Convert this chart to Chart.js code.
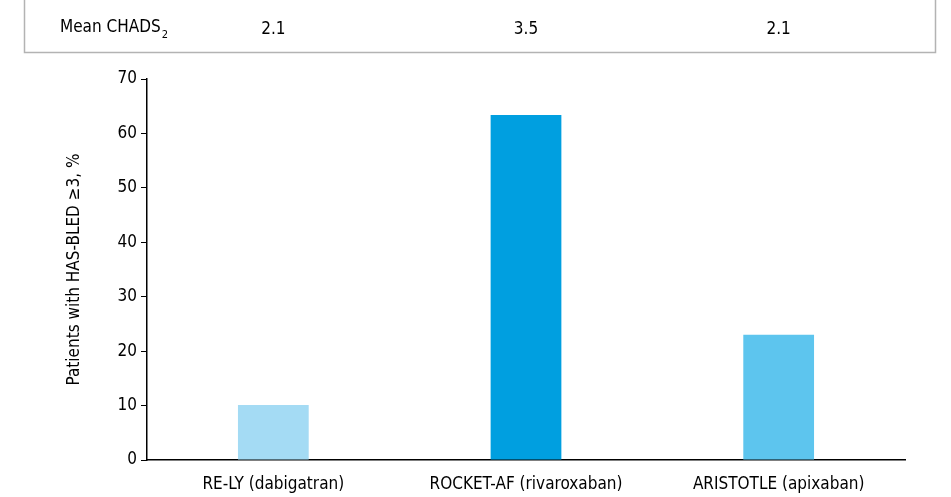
<!DOCTYPE html>
<html>
<head>
<meta charset="utf-8">
<script src="https://cdn.jsdelivr.net/npm/chart.js@4.4.1/dist/chart.umd.min.js"></script>
<style>
  html, body { margin: 0; padding: 0; background: #fff; }
  #wrap { position: relative; width: 951px; height: 497px; }
</style>
</head>
<body>
<div id="wrap"><canvas id="bars"></canvas></div>
<script>
const trials = ['RE-LY (dabigatran)', 'ROCKET-AF (rivaroxaban)', 'ARISTOTLE (apixaban)']
const hasBledPct = [10.1, 63.4, 23.0]
const meanChads = ['2.1', '3.5', '2.1']
const barColors = ['#a4dbf4', '#009fe0', '#5dc5ee']
const yTicks = [0, 10, 20, 30, 40, 50, 60, 70]

const FONT = '"DejaVu Sans Condensed", "Liberation Sans Narrow", sans-serif'

// table strip above the plot, values sit over each bar's column
const chadsRow = {
  id: 'chadsRow',
  afterDraw(chart) {
    const ctx = chart.ctx
    const x = chart.scales.x
    ctx.save()
    ctx.strokeStyle = '#b3b3b3'
    ctx.lineWidth = 1.5
    ctx.beginPath()
    ctx.moveTo(24.5, 0)
    ctx.lineTo(24.5, 52.5)
    ctx.lineTo(935.5, 52.5)
    ctx.lineTo(935.5, 0)
    ctx.stroke()

    ctx.fillStyle = '#000'
    ctx.textBaseline = 'middle'
    ctx.font = '17px ' + FONT
    ctx.textAlign = 'left'
    const label = 'Mean CHADS'
    ctx.fillText(label, 60, 28)
    const w = ctx.measureText(label).width
    ctx.font = '11px ' + FONT
    ctx.fillText('2', 60 + w + 1, 35)

    ctx.font = '17px ' + FONT
    ctx.textAlign = 'center'
    meanChads.forEach((v, i) => {
      ctx.fillText(v, x.getPixelForValue(i), 30)
    })
    ctx.restore()
  }
}

const barConfig = {
  type: 'bar',
  data: {
    labels: trials,
    datasets: [
      {
        data: hasBledPct,
        backgroundColor: barColors,
        borderWidth: 0,
        barPercentage: 0.28,
        categoryPercentage: 1,
      },
    ],
  },
  options: {
    responsive: true,
    maintainAspectRatio: false,
    animation: false,
    layout: {
      padding: { top: 79, right: 46, bottom: 0, left: 10 },
    },
    plugins: {
      legend: { display: false },
      tooltip: { enabled: false },
    },
    scales: {
      x: {
        grid: { display: false, drawTicks: false },
        border: { color: '#000', width: 1.5 },
        ticks: { color: '#000', font: { family: FONT, size: 17 }, padding: 14 },
        afterFit(axis) {
          axis.height = 37
        },
      },
      y: {
        min: 0,
        max: 70,
        afterBuildTicks(axis) {
          axis.ticks = yTicks.map(v => ({ value: v }))
        },
        afterFit(axis) {
          axis.width = 137
        },
        grid: { drawOnChartArea: false, tickLength: 6, color: '#000', lineWidth: 1 },
        border: { color: '#000', width: 1.5 },
        ticks: { color: '#000', font: { family: FONT, size: 17 }, padding: 4 },
        title: {
          display: true,
          text: 'Patients with HAS-BLED \u22653, %',
          color: '#000',
          font: { family: FONT, size: 17 },
          padding: { top: 54, bottom: 0 },
        },
      },
    },
  },
  plugins: [chadsRow],
}

const barCtx = document.getElementById('bars')
window.myBars = new Chart(barCtx, barConfig)
</script>
</body>
</html>
